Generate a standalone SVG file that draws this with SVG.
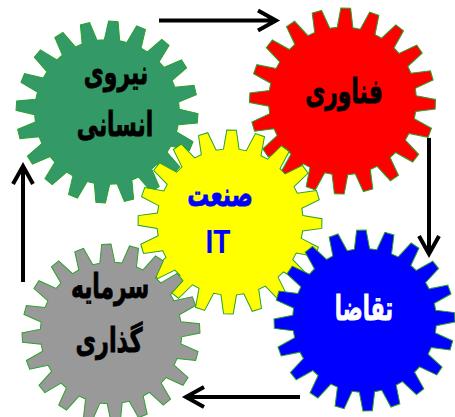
<svg xmlns="http://www.w3.org/2000/svg" xmlns:xlink="http://www.w3.org/1999/xlink" width="455" height="417" viewBox="0 0 455 417">
<style>
.g{stroke:#2aa02a;stroke-width:1.1;vector-effect:non-scaling-stroke;stroke-linejoin:miter}
.t{font-family:"DejaVu Sans",sans-serif;font-weight:bold;font-size:28px;text-anchor:middle;fill:#000;stroke:#000;stroke-width:.7}
.c{fill:none;stroke:#000;stroke-width:4}
</style>
<defs>
<polygon id="gear" points="79.05,-8.45 99.86,-5.23 99.86,5.23 79.05,8.45 77.79,16.39 96.59,25.88 93.36,35.84 72.57,32.46 68.92,39.63 83.87,54.46 77.71,62.93 58.99,53.3 53.3,58.99 62.93,77.71 54.46,83.87 39.63,68.92 32.46,72.57 35.84,93.36 25.88,96.59 16.39,77.79 8.45,79.05 5.23,99.86 -5.23,99.86 -8.45,79.05 -16.39,77.79 -25.88,96.59 -35.84,93.36 -32.46,72.57 -39.63,68.92 -54.46,83.87 -62.93,77.71 -53.3,58.99 -58.99,53.3 -77.71,62.93 -83.87,54.46 -68.92,39.63 -72.57,32.46 -93.36,35.84 -96.59,25.88 -77.79,16.39 -79.05,8.45 -99.86,5.23 -99.86,-5.23 -79.05,-8.45 -77.79,-16.39 -96.59,-25.88 -93.36,-35.84 -72.57,-32.46 -68.92,-39.63 -83.87,-54.46 -77.71,-62.93 -58.99,-53.3 -53.3,-58.99 -62.93,-77.71 -54.46,-83.87 -39.63,-68.92 -32.46,-72.57 -35.84,-93.36 -25.88,-96.59 -16.39,-77.79 -8.45,-79.05 -5.23,-99.86 5.23,-99.86 8.45,-79.05 16.39,-77.79 25.88,-96.59 35.84,-93.36 32.46,-72.57 39.63,-68.92 54.46,-83.87 62.93,-77.71 53.3,-58.99 58.99,-53.3 77.71,-62.93 83.87,-54.46 68.92,-39.63 72.57,-32.46 93.36,-35.84 96.59,-25.88 77.79,-16.39"/>
</defs>
<rect width="455" height="417" fill="#fff"/>
<g id="connectors">
<path class="c" d="M159 20.5H274M258 10.500L276 20.500L258 30.500"/>
<path class="c" d="M429 138V253M419 236L429 254L439 236"/>
<path class="c" d="M300 397H187M204 387L186 397L204 407"/>
<path class="c" d="M23 282V168M13 184L23 166L33 184"/>
</g>
<g id="node-human">
<use xlink:href="#gear" href="#gear" class="g" fill="#339966" transform="translate(107 112) rotate(4) scale(.91)"/>
<text class="t" transform="translate(116 84) scale(.78 1.2)">نیروی</text>
<text class="t" transform="translate(115 136) scale(.78 1.2)">انسانی</text>
</g>
<g id="node-tech">
<use xlink:href="#gear" href="#gear" class="g" fill="#ff0000" transform="translate(342.500 101) rotate(2) scale(.93)"/>
<text class="t" transform="translate(344 103) scale(.78 1.2)">فناوری</text>
</g>
<g id="node-it">
<use xlink:href="#gear" href="#gear" class="g" fill="#ffff00" transform="translate(230 222) rotate(1) scale(.92)"/>
<text class="t" style="fill:#0000ff;stroke:#0000ff" transform="translate(220 206) scale(.78 1.2)">صنعت</text>
<text transform="translate(218 253) scale(.85 1)" style="font-family:'Liberation Sans',sans-serif;font-weight:bold;font-size:33px;text-anchor:middle;fill:#0000ff">IT</text>
</g>
<g id="node-invest">
<use xlink:href="#gear" href="#gear" class="g" fill="#999999" transform="translate(111 333) rotate(-3) scale(.89)"/>
<text class="t" transform="translate(110 298) scale(.78 1.2)">سرمایه</text>
<text class="t" transform="translate(109 352) scale(.8 1.2)">گذاری</text>
</g>
<g id="node-demand">
<use xlink:href="#gear" href="#gear" class="g" fill="#0000ff" transform="translate(364.500 320.500) rotate(-2) scale(.905)"/>
<text class="t" style="fill:#fff;stroke:#fff" transform="translate(364 320) scale(.74 1.2)">تقاضا</text>
</g>
</svg>
